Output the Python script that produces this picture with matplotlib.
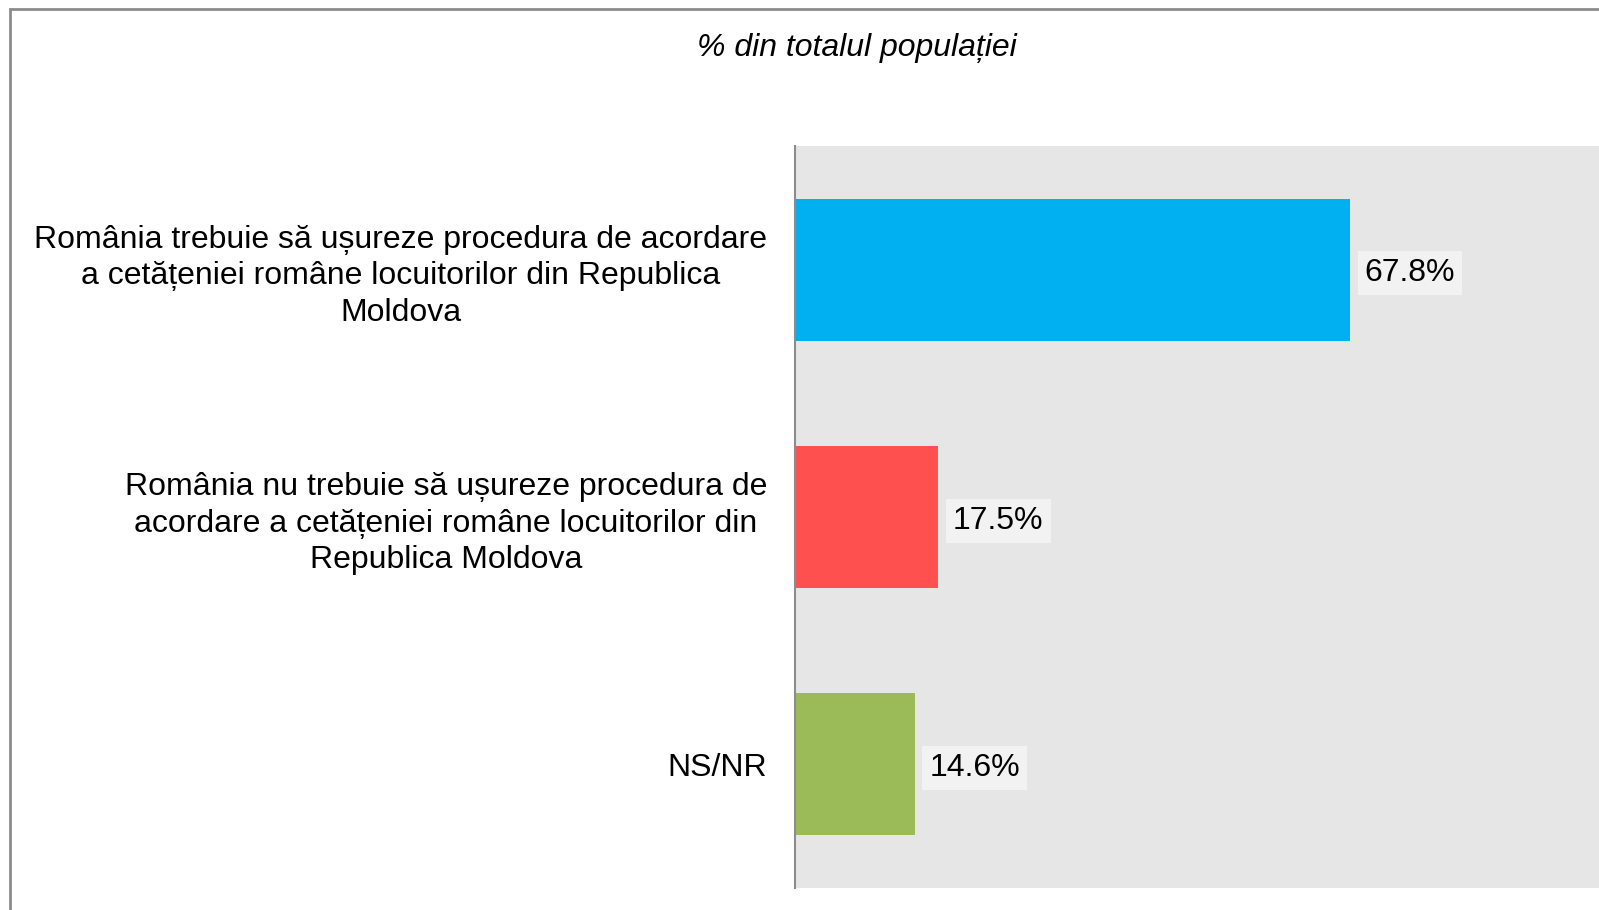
import matplotlib
matplotlib.use('Agg')
import matplotlib.pyplot as plt
from matplotlib.patches import Rectangle

plt.rcParams['font.family'] = ['Liberation Sans', 'DejaVu Sans']

# Data
labels = ['România trebuie să ușureze procedura de acordare\na cetățeniei române locuitorilor din Republica\nMoldova',
          'România nu trebuie să ușureze procedura de\nacordare a cetățeniei române locuitorilor din\nRepublica Moldova',
          'NS/NR']
values = [67.8, 17.5, 14.6]
colors = ['#00b0f0', '#ff5050', '#9bbb59']
title = '% din totalul populației'

W, H = 1599, 910
fig = plt.figure(figsize=(W / 100, H / 100), dpi=100)

# outer frame (only left/top visible in the crop)
fig.patches.append(Rectangle((10 / W, -0.1), 1.2, (H - 9) / H + 0.1, transform=fig.transFigure,
                             fill=False, edgecolor='#8c8c8c', linewidth=2))

ax = fig.add_axes([795 / W, 1 - 888 / H, (W - 795) / W, (888 - 146) / H])
ax.set_facecolor('#e6e6e6')

y = range(len(values))
ax.barh(y, values, height=0.575, color=colors)
ax.set_ylim(len(values) - 0.5, -0.5)
ax.set_xlim(0, 98.2)

for i, v in enumerate(values):
    ax.text(v + 1.8, i + 0.015, f'{v}%', va='center', ha='left', fontsize=23,
            bbox=dict(facecolor='#f2f2f2', edgecolor='none', pad=5))

ax.set_yticks(list(y))
ax.set_yticklabels(labels, fontsize=23, multialignment='center', linespacing=1.28)
ax.tick_params(axis='y', length=0, pad=20)
ax.set_xticks([])
for s in ['top', 'right', 'bottom']:
    ax.spines[s].set_visible(False)
ax.spines['left'].set_color('#8c8c8c')
ax.spines['left'].set_linewidth(1.5)

fig.text(857 / W, 1 - 48 / H, title, ha='center', va='center', fontsize=23, style='italic')

fig.savefig('out.png', dpi=100)
